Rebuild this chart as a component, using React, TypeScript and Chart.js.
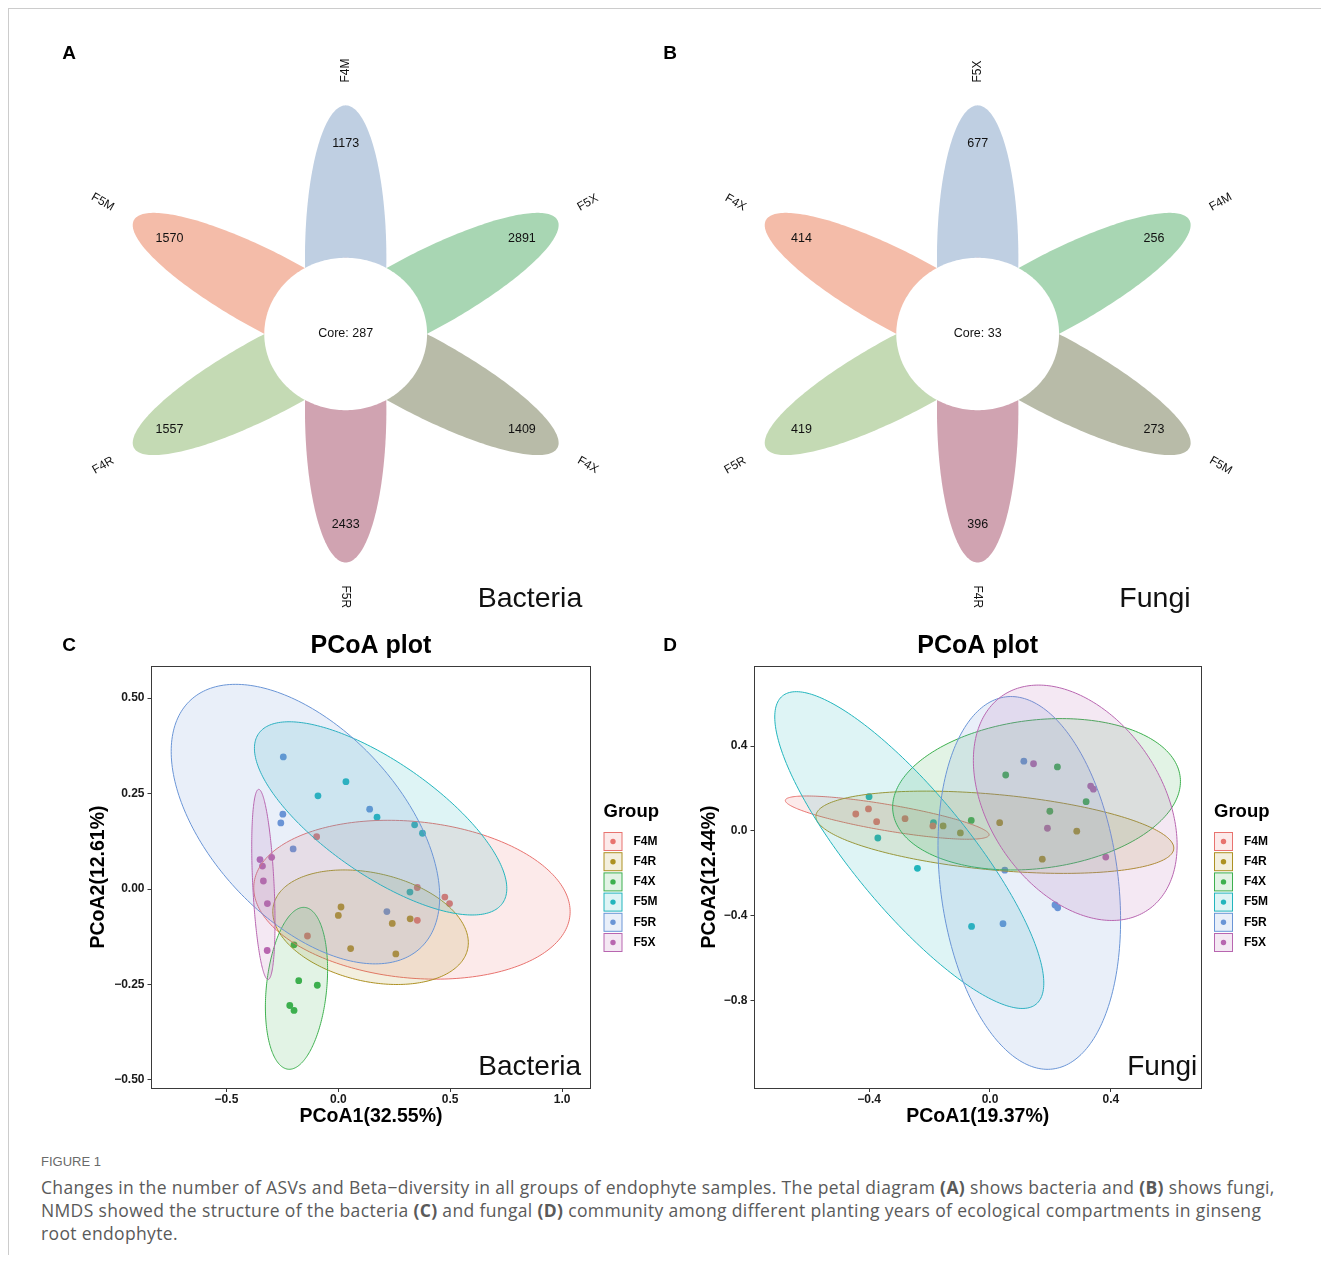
import React, { useEffect, useRef } from "react";
import { Chart, registerables } from "chart.js";

Chart.register(...registerables);

const FONT = '"Liberation Sans", Arial, Helvetica, sans-serif';
const CAPTION_FONT = '"Open Sans", "Liberation Sans", Arial, sans-serif';
Chart.defaults.font.family = FONT;
Chart.defaults.color = "#1a1a1a";

// ---------------- Panel A / B : petal diagrams ----------------
const bacteriaSamples = ["F4M", "F5M", "F4R", "F5R", "F4X", "F5X"];
const bacteriaUnique = [1173, 1570, 1557, 2433, 1409, 2891];
const bacteriaCore = 287;

const fungiSamples = ["F5X", "F4X", "F5R", "F4R", "F5M", "F4M"];
const fungiUnique = [677, 414, 419, 396, 273, 256];
const fungiCore = 33;

const petalColors = ["#BFCFE2", "#F4BCA9", "#C4DAB4", "#D0A3B1", "#B8BBA8", "#A8D6B3"];

// flower geometry (plot units, as in the R flower_plot: centre 5, a = 0.5, b = 2, r = 1)
const FLOWER_CENTER = 5;
const PETAL_START = 90;
const PETAL_OFFSET = 1;
const PETAL_A = 0.5;
const PETAL_B = 2;
const CORE_R = 1;
const COUNT_R = 2.5;
const NAME_R = 3.3;

// ---------------- Panel C / D : PCoA ----------------
const groupNames = ["F4M", "F4R", "F4X", "F5M", "F5R", "F5X"];
const groupColors = ["#E8736F", "#AD9123", "#3DB04E", "#22B5BD", "#6A95D6", "#B866B0"];

// Bacteria PCoA scores [PCoA1, PCoA2]
const bacF4M = [[-0.097, 0.137], [0.353, 0.004], [0.476, -0.021], [0.497, -0.038], [0.353, -0.082], [-0.138, -0.123]];
const bacF4R = [[0.012, -0.047], [0.0, -0.069], [0.241, -0.09], [0.321, -0.078], [0.055, -0.156], [0.257, -0.17]];
const bacF4X = [[-0.198, -0.146], [-0.177, -0.24], [-0.094, -0.252], [-0.217, -0.305], [-0.198, -0.318]];
const bacF5M = [[0.034, 0.281], [-0.091, 0.244], [0.173, 0.188], [0.341, 0.168], [0.376, 0.146], [0.32, -0.008]];
const bacF5R = [[-0.246, 0.346], [-0.248, 0.196], [-0.257, 0.173], [-0.202, 0.105], [0.14, 0.209], [0.217, -0.059]];
const bacF5X = [[-0.35, 0.077], [-0.298, 0.083], [-0.339, 0.06], [-0.335, 0.021], [-0.317, -0.038], [-0.318, -0.161]];

// Bacteria confidence ellipses: centre, half-extent in x / y, correlation
const bacEllipses = [
  { cx: 0.329, cy: -0.028, sx: 0.707, sy: 0.208, rho: -0.15 },
  { cx: 0.144, cy: -0.1, sx: 0.437, sy: 0.15, rho: -0.27 },
  { cx: -0.187, cy: -0.26, sx: 0.139, sy: 0.212, rho: 0.23 },
  { cx: 0.189, cy: 0.185, sx: 0.564, sy: 0.253, rho: -0.725 },
  { cx: -0.147, cy: 0.17, sx: 0.6, sy: 0.366, rho: -0.52 },
  { cx: -0.335, cy: 0.012, sx: 0.052, sy: 0.249, rho: -0.4 },
];

// Fungi PCoA scores
const funF4M = [[-0.444, 0.08], [-0.402, 0.104], [-0.375, 0.044], [-0.281, 0.058], [-0.189, 0.024]];
const funF4R = [[-0.155, 0.024], [-0.098, -0.009], [0.032, 0.039], [0.287, -0.001], [0.173, -0.133]];
const funF4X = [[0.052, 0.264], [0.223, 0.302], [0.318, 0.138], [0.198, 0.093], [-0.062, 0.05]];
const funF5M = [[-0.4, 0.162], [-0.371, -0.033], [-0.187, 0.039], [-0.24, -0.176], [-0.061, -0.45]];
const funF5R = [[0.112, 0.329], [0.049, -0.185], [0.215, -0.349], [0.224, -0.362], [0.043, -0.437]];
const funF5X = [[0.144, 0.317], [0.333, 0.212], [0.342, 0.197], [0.19, 0.013], [0.383, -0.123]];

const funEllipses = [
  { cx: -0.34, cy: 0.063, sx: 0.337, sy: 0.102, rho: -0.79 },
  { cx: 0.016, cy: -0.006, sx: 0.592, sy: 0.194, rho: -0.385 },
  { cx: 0.154, cy: 0.173, sx: 0.476, sy: 0.357, rho: 0.17 },
  { cx: -0.267, cy: -0.09, sx: 0.445, sy: 0.747, rho: -0.84 },
  { cx: 0.13, cy: -0.245, sx: 0.302, sy: 0.879, rho: -0.2 },
  { cx: 0.282, cy: 0.133, sx: 0.337, sy: 0.555, rho: -0.36 },
];

const bacXTicks = [-0.5, 0, 0.5, 1.0];
const bacYTicks = [-0.5, -0.25, 0, 0.25, 0.5];
const funXTicks = [-0.4, 0, 0.4];
const funYTicks = [-0.8, -0.4, 0, 0.4];

// ---------------- helpers ----------------
function rgba(hex: string, a: number) {
  const n = parseInt(hex.slice(1), 16);
  return `rgba(${(n >> 16) & 255},${(n >> 8) & 255},${n & 255},${a})`;
}
function fmtTick(v: number, d: number) {
  const s = Math.abs(v).toFixed(d);
  return v < -1e-9 ? "\u2212" + s : s;
}

function makeFlowerPlugin(samples: string[], counts: number[], core: number, label: string, labelPos: number[]) {
  return {
    id: "flower",
    afterDatasetsDraw(chart: any) {
      const { ctx } = chart;
      const sx = chart.scales.x;
      const sy = chart.scales.y;
      const X = (v: number) => sx.getPixelForValue(v);
      const Y = (v: number) => sy.getPixelForValue(v);
      const n = samples.length;
      const deg = 360 / n;
      const rad = Math.PI / 180;
      ctx.save();
      for (let i = 0; i < n; i++) {
        const phi = (PETAL_START + deg * i) * rad;
        const th = deg * i * rad;
        const cx = FLOWER_CENTER + PETAL_OFFSET * Math.cos(phi);
        const cy = FLOWER_CENTER + PETAL_OFFSET * Math.sin(phi);
        ctx.beginPath();
        for (let k = 0; k <= 240; k++) {
          const t = (2 * Math.PI * k) / 240;
          const lx = PETAL_A * Math.cos(t);
          const ly = PETAL_B * Math.sin(t);
          const px = X(cx + lx * Math.cos(th) - ly * Math.sin(th));
          const py = Y(cy + lx * Math.sin(th) + ly * Math.cos(th));
          if (k === 0) ctx.moveTo(px, py);
          else ctx.lineTo(px, py);
        }
        ctx.closePath();
        ctx.fillStyle = petalColors[i];
        ctx.fill();
      }
      ctx.beginPath();
      for (let k = 0; k <= 240; k++) {
        const t = (2 * Math.PI * k) / 240;
        const px = X(FLOWER_CENTER + CORE_R * Math.cos(t));
        const py = Y(FLOWER_CENTER + CORE_R * Math.sin(t));
        if (k === 0) ctx.moveTo(px, py);
        else ctx.lineTo(px, py);
      }
      ctx.closePath();
      ctx.fillStyle = "#ffffff";
      ctx.fill();

      ctx.fillStyle = "#111111";
      ctx.font = `12.5px ${FONT}`;
      ctx.textAlign = "center";
      ctx.textBaseline = "middle";
      for (let i = 0; i < n; i++) {
        const phi = (PETAL_START + deg * i) * rad;
        ctx.fillText(
          String(counts[i]),
          X(FLOWER_CENTER + COUNT_R * Math.cos(phi)),
          Y(FLOWER_CENTER + COUNT_R * Math.sin(phi))
        );
      }
      ctx.fillText(`Core: ${core}`, X(FLOWER_CENTER), Y(FLOWER_CENTER));

      ctx.font = `12px ${FONT}`;
      for (let i = 0; i < n; i++) {
        const a = deg * i;
        const phi = (PETAL_START + a) * rad;
        let srt: number;
        let align: string;
        if (a > 0 && a < 180) {
          srt = a - PETAL_START;
          align = "right";
        } else {
          srt = a + PETAL_START;
          align = "left";
        }
        ctx.save();
        ctx.translate(X(FLOWER_CENTER + NAME_R * Math.cos(phi)), Y(FLOWER_CENTER + NAME_R * Math.sin(phi)));
        ctx.rotate(-srt * rad);
        ctx.textAlign = align;
        ctx.textBaseline = "middle";
        ctx.fillText(samples[i], 0, 0);
        ctx.restore();
      }

      ctx.font = `28.5px ${FONT}`;
      ctx.textAlign = "center";
      ctx.textBaseline = "alphabetic";
      ctx.fillStyle = "#111111";
      ctx.fillText(label, chart.chartArea.left + labelPos[0], chart.chartArea.top + labelPos[1]);
      ctx.restore();
    },
  };
}

type Ell = { cx: number; cy: number; sx: number; sy: number; rho: number };

function makePcoaPlugin(ellipses: Ell[], label: string, labelRight: number) {
  return {
    id: "pcoaDecor",
    afterDatasetsDraw(chart: any) {
      const { ctx, chartArea } = chart;
      const sx = chart.scales.x;
      const sy = chart.scales.y;
      ctx.save();
      ctx.beginPath();
      ctx.rect(chartArea.left, chartArea.top, chartArea.right - chartArea.left, chartArea.bottom - chartArea.top);
      ctx.clip();
      ellipses.forEach((e, i) => {
        const s = Math.sqrt(1 - e.rho * e.rho);
        ctx.beginPath();
        for (let k = 0; k <= 240; k++) {
          const t = (2 * Math.PI * k) / 240;
          const x = e.cx + e.sx * Math.cos(t);
          const y = e.cy + e.sy * (e.rho * Math.cos(t) + s * Math.sin(t));
          const px = sx.getPixelForValue(x);
          const py = sy.getPixelForValue(y);
          if (k === 0) ctx.moveTo(px, py);
          else ctx.lineTo(px, py);
        }
        ctx.closePath();
        ctx.fillStyle = rgba(groupColors[i], 0.15);
        ctx.fill();
        ctx.strokeStyle = groupColors[i];
        ctx.lineWidth = 1;
        ctx.stroke();
      });
      ctx.restore();
    },
    afterDraw(chart: any) {
      const { ctx, chartArea } = chart;
      ctx.save();
      // title
      ctx.fillStyle = "#000";
      ctx.font = `bold 25px ${FONT}`;
      ctx.textAlign = "center";
      ctx.textBaseline = "middle";
      ctx.fillText("PCoA plot", (chartArea.left + chartArea.right) / 2, chartArea.top - 20);
      // in-panel tag
      ctx.font = `28px ${FONT}`;
      ctx.textAlign = "right";
      ctx.textBaseline = "alphabetic";
      ctx.fillStyle = "#111";
      ctx.fillText(label, chartArea.right - labelRight, chartArea.bottom - 13.5);
      // legend
      const lx = chartArea.right + 13;
      ctx.fillStyle = "#000";
      ctx.font = `bold 18.5px ${FONT}`;
      ctx.textAlign = "left";
      ctx.textBaseline = "middle";
      ctx.fillText("Group", lx, chartArea.top + 146);
      groupNames.forEach((g, i) => {
        const top = chartArea.top + 166 + i * 20.2;
        ctx.fillStyle = rgba(groupColors[i], 0.15);
        ctx.fillRect(lx + 0.5, top + 0.5, 18, 18);
        ctx.strokeStyle = groupColors[i];
        ctx.lineWidth = 1;
        ctx.strokeRect(lx + 0.5, top + 0.5, 18, 18);
        ctx.beginPath();
        ctx.arc(lx + 9.5, top + 9.5, 2.7, 0, Math.PI * 2);
        ctx.fillStyle = groupColors[i];
        ctx.fill();
        ctx.fillStyle = "#000";
        ctx.font = `bold 12px ${FONT}`;
        ctx.fillText(g, lx + 30, top + 9.5);
      });
      ctx.restore();
    },
  };
}

function flowerConfig(samples: string[], counts: number[], core: number, label: string, labelPos: number[]) {
  return {
    type: "scatter",
    data: { datasets: [] },
    options: {
      responsive: false,
      animation: false,
      events: [],
      layout: { padding: 0 },
      scales: {
        x: { type: "linear", display: false, min: 1.257, max: 8.751 },
        y: { type: "linear", display: false, min: 1.299, max: 8.976 },
      },
      plugins: { legend: { display: false }, tooltip: { enabled: false } },
    },
    plugins: [makeFlowerPlugin(samples, counts, core, label, labelPos)],
  };
}

type PcoaOpts = {
  points: number[][][];
  ellipses: Ell[];
  xTicks: number[];
  yTicks: number[];
  xDec: number;
  yDec: number;
  xMin: number;
  xMax: number;
  yMin: number;
  yMax: number;
  xTitle: string;
  yTitle: string;
  label: string;
  labelRight: number;
  padLeft: number;
  padRight: number;
  yAxisWidth: number;
};

function pcoaConfig(o: PcoaOpts) {
  const axisColor = "#3a3a3a";
  return {
    type: "scatter",
    data: {
      datasets: groupNames.map((g, i) => ({
        label: g,
        data: o.points[i].map((p) => ({ x: p[0], y: p[1] })),
        backgroundColor: groupColors[i],
        borderWidth: 0,
        pointRadius: 3.4,
        pointHoverRadius: 3.4,
      })),
    },
    options: {
      responsive: false,
      animation: false,
      events: [],
      layout: { padding: { left: o.padLeft, top: 45, right: o.padRight, bottom: 17.3 } },
      scales: {
        x: {
          type: "linear",
          position: "bottom",
          min: o.xMin,
          max: o.xMax,
          afterBuildTicks: (s: any) => {
            s.ticks = o.xTicks.map((v) => ({ value: v }));
          },
          afterFit: (s: any) => {
            s.height = 40.7;
          },
          ticks: {
            callback: (v: number) => fmtTick(v, o.xDec),
            font: { size: 12, weight: "bold" },
            color: "#1a1a1a",
            padding: 0,
            maxRotation: 0,
            autoSkip: false,
          },
          grid: { display: true, drawOnChartArea: false, drawTicks: true, tickLength: 4, color: axisColor, lineWidth: 1 },
          border: { display: true, color: axisColor, width: 1 },
          title: { display: true, text: o.xTitle, font: { size: 19.5, weight: "bold" }, color: "#000", padding: 0 },
        },
        y: {
          type: "linear",
          position: "left",
          min: o.yMin,
          max: o.yMax,
          afterBuildTicks: (s: any) => {
            s.ticks = o.yTicks.map((v) => ({ value: v }));
          },
          afterFit: (s: any) => {
            s.width = o.yAxisWidth;
          },
          ticks: {
            callback: (v: number) => fmtTick(v, o.yDec),
            font: { size: 12, weight: "bold" },
            color: "#1a1a1a",
            padding: 3,
            autoSkip: false,
          },
          grid: { display: true, drawOnChartArea: false, drawTicks: true, tickLength: 4, color: axisColor, lineWidth: 1 },
          border: { display: true, color: axisColor, width: 1 },
          title: { display: true, text: o.yTitle, font: { size: 19.5, weight: "bold" }, color: "#000", padding: 0 },
        },
        x2: {
          type: "linear",
          position: "top",
          display: true,
          grid: { display: false, drawTicks: false },
          ticks: { display: false },
          border: { display: true, color: axisColor, width: 1 },
          afterFit: (s: any) => {
            s.height = 0;
          },
        },
        y2: {
          type: "linear",
          position: "right",
          display: true,
          grid: { display: false, drawTicks: false },
          ticks: { display: false },
          border: { display: true, color: axisColor, width: 1 },
          afterFit: (s: any) => {
            s.width = 0;
          },
        },
      },
      plugins: { legend: { display: false }, tooltip: { enabled: false }, title: { display: false } },
    },
    plugins: [makePcoaPlugin(o.ellipses, o.label, o.labelRight)],
  };
}

function ChartCanvas({ config, left, top, width, height }: any) {
  const ref = useRef<HTMLCanvasElement>(null);
  useEffect(() => {
    const chart = new Chart(ref.current as HTMLCanvasElement, config);
    return () => chart.destroy();
  }, []);
  return (
    <canvas
      ref={ref}
      width={width}
      height={height}
      style={{ position: "absolute", left, top, width, height, display: "block" }}
    />
  );
}

const letterStyle = (left: number, top: number): React.CSSProperties => ({
  position: "absolute",
  left,
  top,
  transform: "translate(-50%, -50%)",
  font: `bold 19px ${FONT}`,
  lineHeight: "1",
  color: "#000",
});

export default function App() {
  const bacCfg = flowerConfig(bacteriaSamples, bacteriaUnique, bacteriaCore, "Bacteria", [489, 576]);
  const funCfg = flowerConfig(fungiSamples, fungiUnique, fungiCore, "Fungi", [482, 576]);
  const cCfg = pcoaConfig({
    points: [bacF4M, bacF4R, bacF4X, bacF5M, bacF5R, bacF5X],
    ellipses: bacEllipses,
    xTicks: bacXTicks,
    yTicks: bacYTicks,
    xDec: 1,
    yDec: 2,
    xMin: -0.835,
    xMax: 1.127,
    yMin: -0.521,
    yMax: 0.584,
    xTitle: "PCoA1(32.55%)",
    yTitle: "PCoA2(12.61%)",
    label: "Bacteria",
    labelRight: 9.5,
    padLeft: 26.3,
    padRight: 100.5,
    yAxisWidth: 64.2,
  });
  const dCfg = pcoaConfig({
    points: [funF4M, funF4R, funF4X, funF5M, funF5R, funF5X],
    ellipses: funEllipses,
    xTicks: funXTicks,
    yTicks: funYTicks,
    xDec: 1,
    yDec: 1,
    xMin: -0.779,
    xMax: 0.698,
    yMin: -1.212,
    yMax: 0.778,
    xTitle: "PCoA1(19.37%)",
    yTitle: "PCoA2(12.44%)",
    label: "Fungi",
    labelRight: 3.7,
    padLeft: 37.3,
    padRight: 129,
    yAxisWidth: 56.2,
  });

  return (
    <div
      style={{
        position: "relative",
        width: 1321,
        height: 1247,
        borderTop: "1px solid #cccccc",
        borderLeft: "1px solid #cccccc",
        boxSizing: "border-box",
        background: "#fff",
        overflow: "hidden",
      }}
    >
      <ChartCanvas config={bacCfg} left={32} top={22} width={610} height={585} />
      <ChartCanvas config={funCfg} left={664} top={22} width={610} height={585} />
      <ChartCanvas config={cCfg} left={52} top={612} width={630} height={525} />
      <ChartCanvas config={dCfg} left={652} top={612} width={669} height={525} />

      <div style={letterStyle(60, 43)}>A</div>
      <div style={letterStyle(661, 43)}>B</div>
      <div style={letterStyle(60, 635)}>C</div>
      <div style={letterStyle(661, 635)}>D</div>

      <div
        style={{
          position: "absolute",
          left: 32,
          top: 1152,
          transform: "translateY(-50%)",
          font: `13px ${FONT}`,
          lineHeight: "1",
          color: "#6a6a6a",
          whiteSpace: "nowrap",
        }}
      >
        FIGURE 1
      </div>
      <div
        style={{
          position: "absolute",
          left: 32,
          top: 1166.5,
          font: `17.5px ${CAPTION_FONT}`,
          letterSpacing: "0.35px",
          lineHeight: "23px",
          color: "#5a5a5a",
          whiteSpace: "nowrap",
        }}
      >
        Changes in the number of ASVs and Beta{"\u2212"}diversity in all groups of endophyte samples. The petal diagram{" "}
        <b>(A)</b> shows bacteria and <b>(B)</b> shows fungi,
        <br />
        NMDS showed the structure of the bacteria <b>(C)</b> and fungal <b>(D)</b> community among different planting years
        of ecological compartments in ginseng
        <br />
        root endophyte.
      </div>
    </div>
  );
}
